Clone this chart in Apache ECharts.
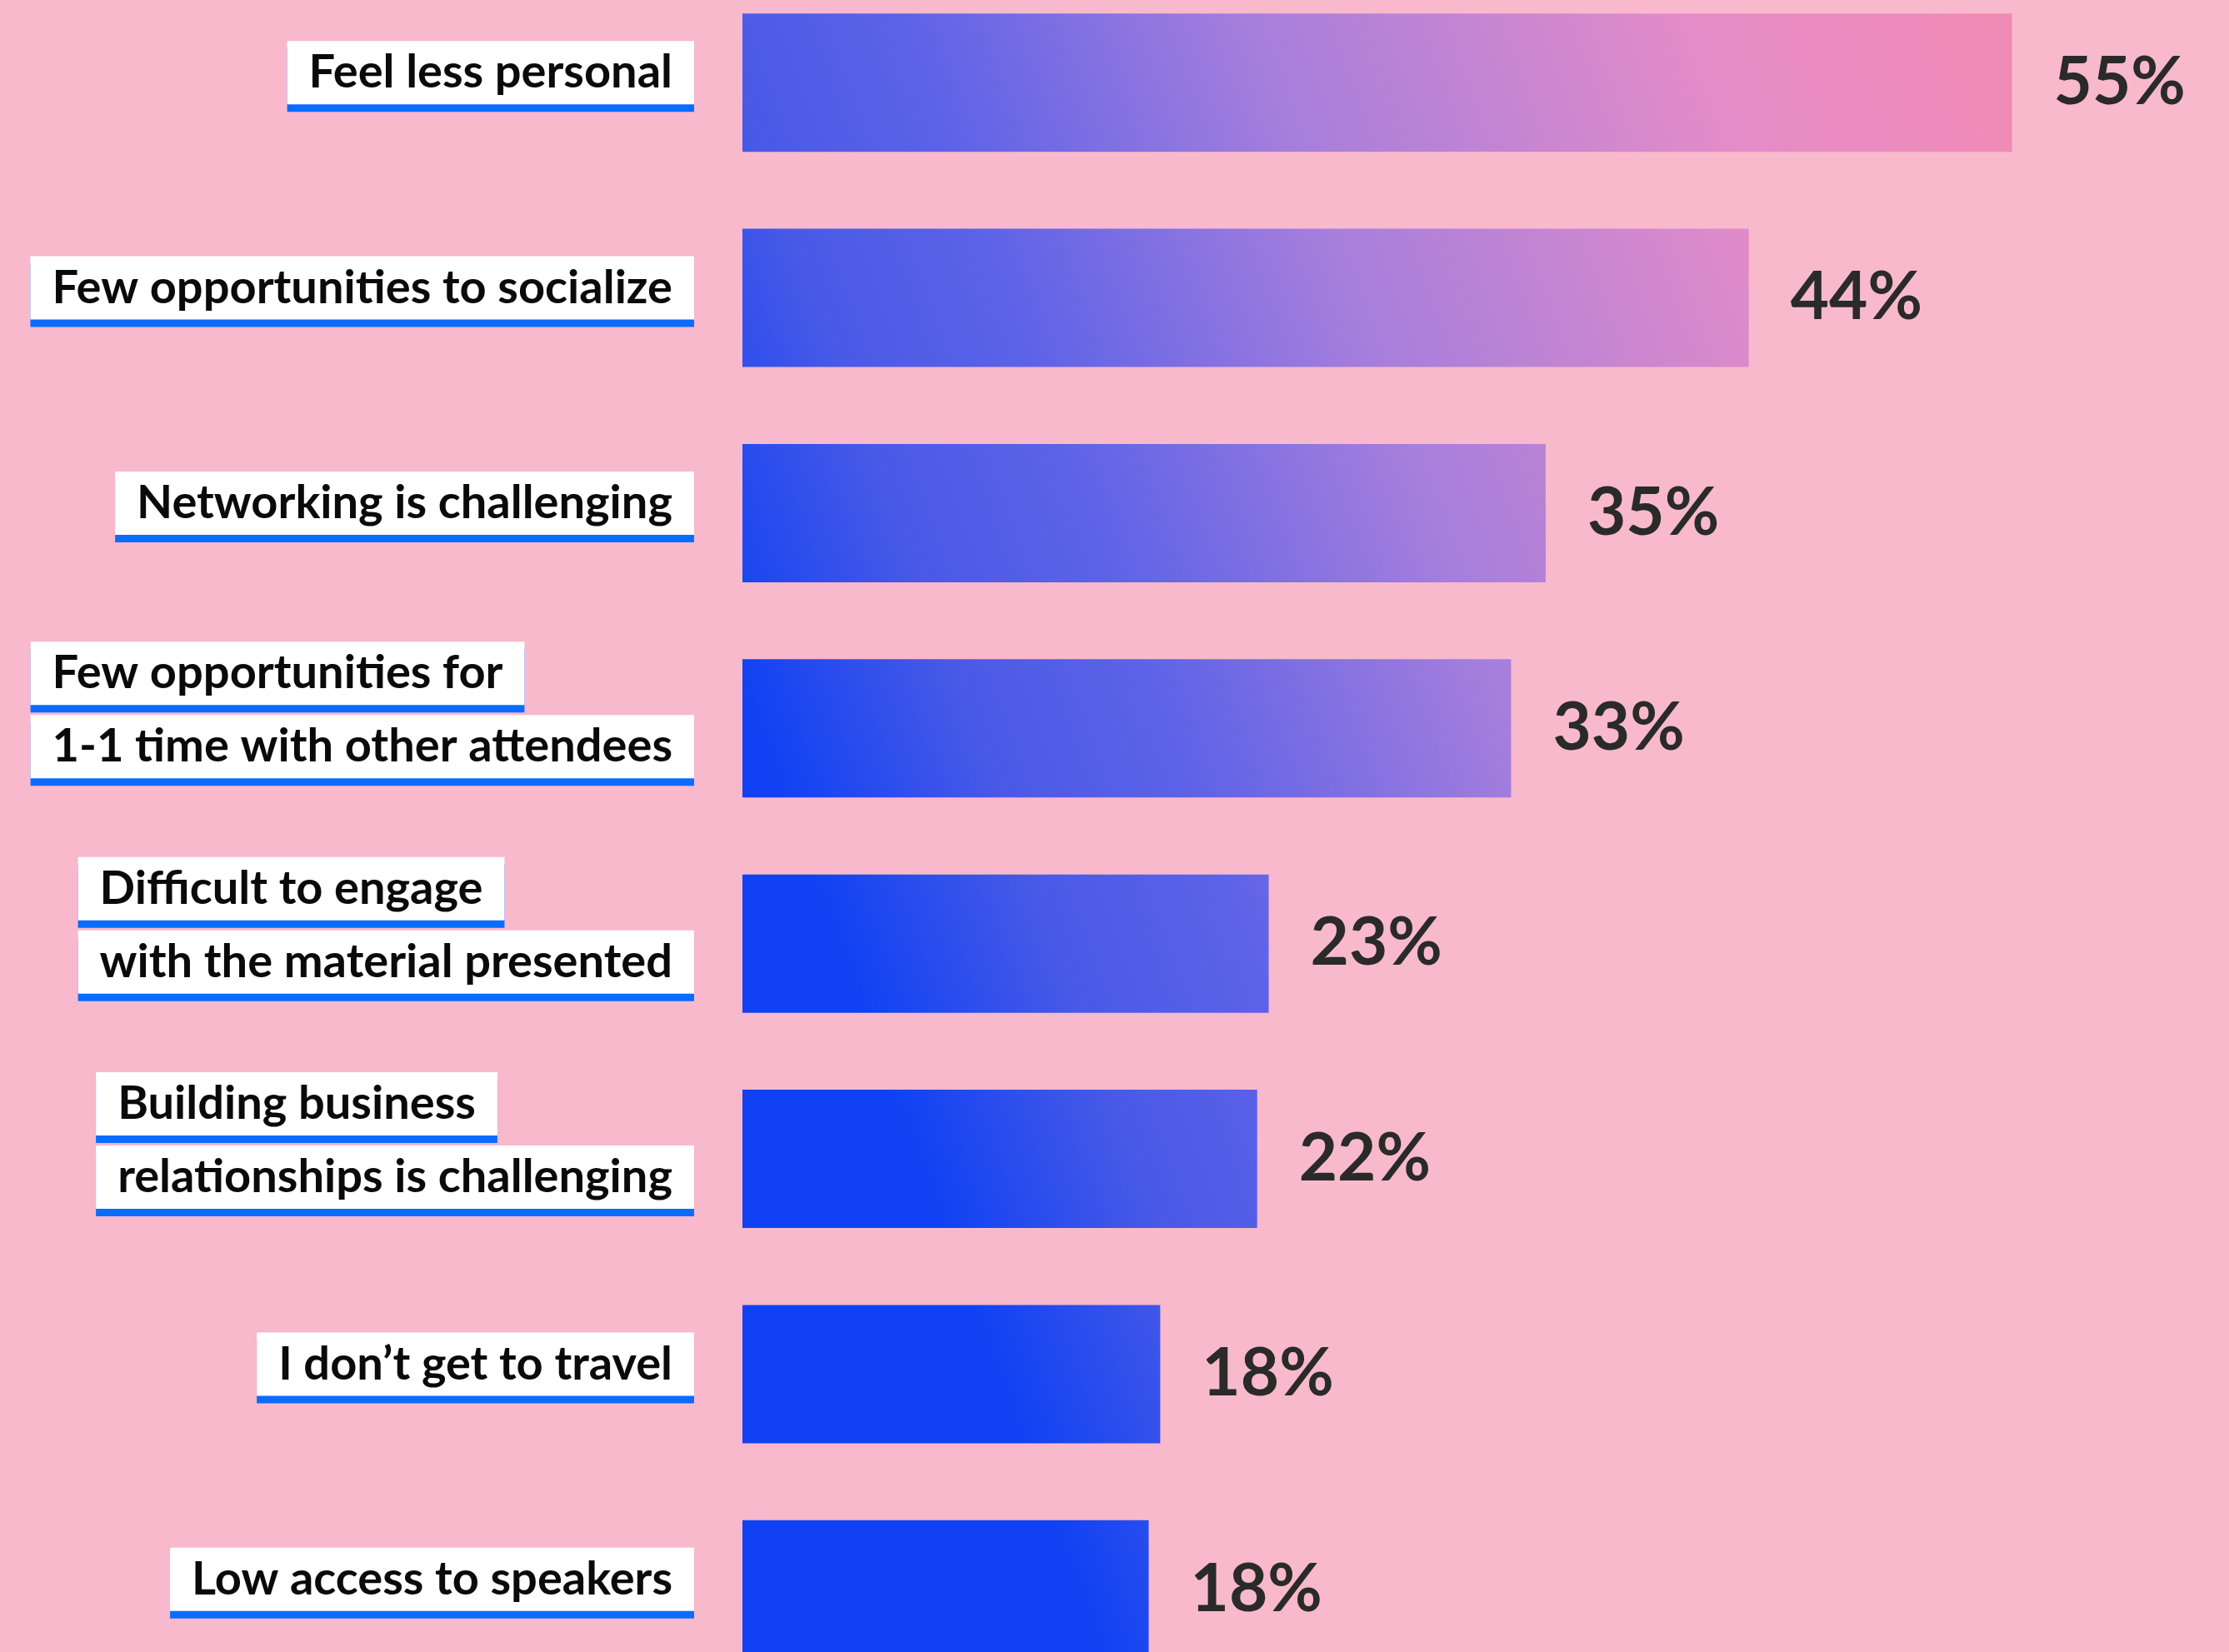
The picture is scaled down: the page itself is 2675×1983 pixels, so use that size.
<!DOCTYPE html>
<html>
<head>
<meta charset="utf-8">
<script src="https://cdn.jsdelivr.net/npm/echarts@6/dist/echarts.min.js"></script>
<style>
  html, body { margin: 0; padding: 0; background: #f8b9cd; }
  #chart { width: 2675px; height: 1983px; }
</style>
</head>
<body>
<div id="chart"></div>
<script>
const categories = [
  'Feel less personal',
  'Few opportunities to socialize',
  'Networking is challenging',
  'Few opportunities for\n1-1 time with other attendees',
  'Difficult to engage\nwith the material presented',
  'Building business\nrelationships is challenging',
  'I don\u2019t get to travel',
  'Low access to speakers'
];
const values = [55, 43.6, 34.8, 33.3, 22.8, 22.3, 18.1, 17.6];

const chart = echarts.init(document.getElementById('chart'), null, { renderer: 'canvas' });

const barFill = new echarts.graphic.LinearGradient(1321, 1983, 2897, 1398, [
  { offset: 0, color: '#1042f3' },
  { offset: 0.15, color: '#4a5ae6' },
  { offset: 0.27, color: '#5c62e8' },
  { offset: 0.5, color: '#a57edc' },
  { offset: 0.8, color: '#e48cc8' },
  { offset: 1, color: '#f28ab6' }
], true);

const yData = categories.map(function (c) {
  return c.indexOf('\n') >= 0
    ? { value: c, textStyle: { padding: [0, 0, 44, 0] } }
    : c;
});

chart.setOption({
  backgroundColor: '#f8b9cd',
  animation: false,
  grid: { left: 891, right: 122, top: -30, height: 2067, containLabel: false, outerBoundsMode: 'none' },
  xAxis: { type: 'value', min: 0, max: 60, show: false },
  yAxis: {
    type: 'category',
    inverse: true,
    data: yData,
    axisLine: { show: false },
    axisTick: { show: false },
    splitLine: { show: false },
    axisLabel: {
      margin: 58,
      padding: [0, 0, 24, 0],
      formatter: function (v) {
        return v.split('\n').map(function (s) { return '{b|' + s + '}'; }).join('\n');
      },
      rich: {
        b: {
          align: 'left',
          backgroundColor: '#ffffff',
          color: '#0a0a0a',
          fontFamily: 'Lato',
          fontWeight: 'bold',
          fontSize: 56,
          height: 56,
          lineHeight: 88,
          padding: [10, 26, 10, 26],
          shadowColor: '#0a6cff',
          shadowOffsetY: 9,
          shadowOffsetX: 0,
          shadowBlur: 0
        }
      }
    }
  },
  series: [{
    type: 'bar',
    data: values,
    barWidth: 166,
    itemStyle: { color: barFill },
    label: {
      show: true,
      position: 'right',
      distance: 50,
      color: '#2a2a2a',
      fontFamily: 'Lato',
      fontWeight: 'bold',
      fontSize: 80,
      formatter: function (p) { return Math.round(p.value) + '%'; }
    }
  }]
});
</script>
</body>
</html>
